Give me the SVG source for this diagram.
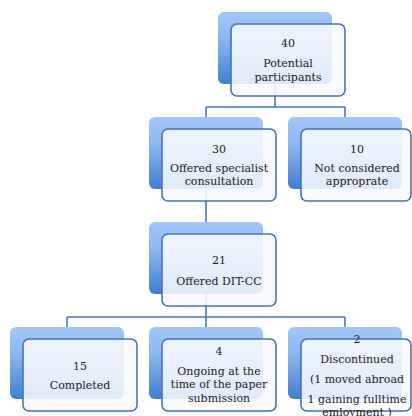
<svg xmlns="http://www.w3.org/2000/svg" width="412" height="416" viewBox="0 0 412 416">
<defs>
<linearGradient id="bg" x1="0" y1="0" x2="0" y2="1">
<stop offset="0" stop-color="#a3c7f8"/>
<stop offset="0.35" stop-color="#8fb8f0"/>
<stop offset="1" stop-color="#3f7fd0"/>
</linearGradient>
<filter id="soft" x="-10%" y="-10%" width="120%" height="120%">
<feGaussianBlur stdDeviation="0.6"/>
</filter>
</defs>
<style>
.back{fill:url(#bg);filter:url(#soft)}
.front{fill:#f7f9fd;fill-opacity:0.88;stroke:#4673b3;stroke-width:1.6}
.conn{fill:none;stroke:#4877b8;stroke-width:1.6}
text{font-family:"DejaVu Serif","Liberation Serif",serif;font-size:11px;fill:#1a1a1a;text-anchor:middle}
</style>
<rect width="412" height="416" fill="#ffffff"/>
<g id="connectors">
<path class="conn" d="M275 83V107M206 107H345M206 107V117M345 107V117"/>
<path class="conn" d="M206 189V222"/>
<path class="conn" d="M206 294V317M67 317H345M67 317V327M206 317V327M345 317V327"/>
</g>
<g id="n40">
<rect class="back" x="218" y="12" width="114" height="72" rx="6"/>
<rect class="front" x="231" y="24" width="114" height="72" rx="6"/>
<text x="288" y="47">40</text>
<text x="288" y="67">Potential</text>
<text x="288" y="81">participants</text>
</g>
<g id="n30">
<rect class="back" x="149" y="117" width="114" height="72" rx="6"/>
<rect class="front" x="162" y="129" width="114" height="72" rx="6"/>
<text x="219" y="153">30</text>
<text x="219" y="172">Offered specialist</text>
<text x="219" y="185">consultation</text>
</g>
<g id="n10">
<rect class="back" x="288" y="117" width="114" height="72" rx="6"/>
<rect class="front" x="301" y="129" width="110" height="72" rx="6"/>
<text x="357" y="153">10</text>
<text x="357" y="172">Not considered</text>
<text x="357" y="185">approprate</text>
</g>
<g id="n21">
<rect class="back" x="149" y="222" width="114" height="72" rx="6"/>
<rect class="front" x="162" y="234" width="114" height="72" rx="6"/>
<text x="219" y="264">21</text>
<text x="219" y="285">Offered DIT-CC</text>
</g>
<g id="n15">
<rect class="back" x="10" y="327" width="114" height="72" rx="6"/>
<rect class="front" x="23" y="339" width="114" height="72" rx="6"/>
<text x="80" y="370">15</text>
<text x="80" y="389">Completed</text>
</g>
<g id="n4">
<rect class="back" x="149" y="327" width="114" height="72" rx="6"/>
<rect class="front" x="162" y="339" width="114" height="72" rx="6"/>
<text x="219" y="355">4</text>
<text x="219" y="375">Ongoing at the</text>
<text x="219" y="388">time of the paper</text>
<text x="219" y="402">submission</text>
</g>
<g id="n2">
<rect class="back" x="288" y="327" width="114" height="72" rx="6"/>
<rect class="front" x="301" y="339" width="110" height="72" rx="6"/>
<text x="357" y="343">2</text>
<text x="357" y="363">Discontinued</text>
<text x="357" y="383">(1 moved abroad</text>
<text x="357" y="403">1 gaining fulltime</text>
<text x="357" y="416">emloyment )</text>
</g>
</svg>
